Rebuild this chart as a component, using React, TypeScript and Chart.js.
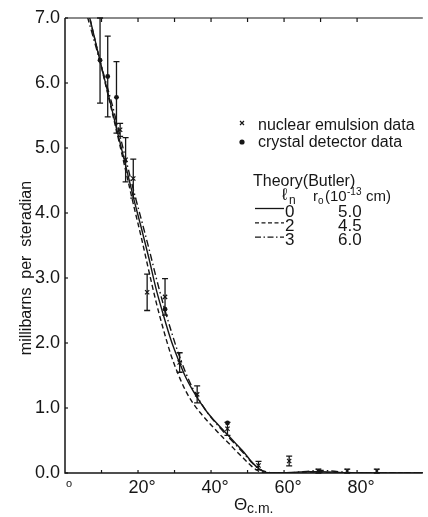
import React, { useEffect, useRef } from 'react';
import { Chart, registerables } from 'chart.js';

Chart.register(...registerables);

// ---------- data ----------
const xTickValues = [0, 20, 40, 60, 80];
const xTickLabels = ['o', '20°', '40°', '60°', '80°'];
const yTickLabels = ['0.0', '1.0', '2.0', '3.0', '4.0', '5.0', '6.0', '7.0'];

// nuclear emulsion data (×)
const emulsionAngle = [15.1, 16.6, 18.7, 22.5, 27.4, 31.4, 36.2, 44.5, 53.0, 61.4, 69.4, 77.3, 85.4];
const emulsionValue = [5.28, 4.82, 4.53, 2.78, 2.71, 1.70, 1.21, 0.68, 0.115, 0.185, 0.03, 0.03, 0.03];
const emulsionError = [0.10, 0.34, 0.30, 0.28, 0.28, 0.15, 0.13, 0.10, 0.065, 0.075, 0.03, 0.03, 0.03];

// crystal detector data (•)
const crystalAngle = [9.6, 11.7, 14.1, 27.4, 44.5];
const crystalValue = [6.35, 6.10, 5.78, 2.52, 0.77];
const crystalError = [0.66, 0.62, 0.55, 0, 0];

// Theory (Butler): l_n = 0, r0 = 5.0  (solid)
const theory0Angle = [5, 7, 9, 11, 13, 15, 17, 19, 21, 23, 25, 27, 29, 31, 33, 35, 37, 39, 41, 43, 45, 47, 49, 51, 53, 55, 58, 62, 66, 70, 75, 80, 98];
const theory0Value = [7.4, 6.95, 6.48, 6.02, 5.56, 5.1, 4.64, 4.18, 3.75, 3.3, 2.82, 2.42, 2.05, 1.75, 1.48, 1.27, 1.09, 0.93, 0.80, 0.68, 0.56, 0.44, 0.32, 0.18, 0.07, 0.01, 0, 0.01, 0.02, 0.02, 0.01, 0, 0];
// l_n = 2, r0 = 4.5  (dashed)
const theory2Angle = [5, 7, 9, 11, 13, 15, 17, 19, 21, 23, 25, 27, 29, 31, 33, 35, 37, 39, 41, 43, 45, 47, 49, 51, 53, 55, 98];
const theory2Value = [7.45, 6.95, 6.48, 6.0, 5.53, 5.05, 4.56, 4.07, 3.6, 3.1, 2.62, 2.2, 1.82, 1.52, 1.27, 1.08, 0.93, 0.80, 0.68, 0.56, 0.45, 0.33, 0.22, 0.11, 0.03, 0, 0];
// l_n = 3, r0 = 6.0  (dash-dot)
const theory3Angle = [5, 7, 9, 11, 13, 15, 17, 19, 21, 23, 25, 27, 29, 31, 33, 35, 37, 39, 41, 43, 45, 47, 49, 51, 53, 55, 58, 63, 67, 70, 73, 77, 80, 98];
const theory3Value = [7.25, 6.85, 6.45, 6.05, 5.65, 5.2, 4.75, 4.3, 3.88, 3.45, 3.0, 2.58, 2.2, 1.85, 1.55, 1.3, 1.1, 0.93, 0.79, 0.66, 0.54, 0.42, 0.3, 0.17, 0.07, 0.02, 0, 0.01, 0.03, 0.04, 0.03, 0.01, 0, 0];

const legendRows = [
  { ln: '0', r0: '5.0', dash: [] as number[] },
  { ln: '2', r0: '4.5', dash: [4, 2.5] },
  { ln: '3', r0: '6.0', dash: [6, 2.5, 1.5, 2.5] },
];

// ---------- styling ----------
const INK = '#161616';
const FONT = '"Liberation Sans", Arial, sans-serif';

const pts = (xs: number[], ys: number[]) => xs.map((x, i) => ({ x, y: ys[i] }));

const axesPlugin = {
  id: 'axesFrame',
  afterDraw(chart: any) {
    const { ctx, chartArea: a, scales } = chart;
    const x = scales.x;
    const y = scales.y;
    ctx.save();
    ctx.strokeStyle = INK;
    ctx.lineWidth = 1.5;
    ctx.beginPath();
    ctx.moveTo(a.left, a.top);
    ctx.lineTo(a.left, a.bottom);
    ctx.lineTo(a.right, a.bottom);
    ctx.stroke();
    ctx.lineWidth = 1.2;
    ctx.beginPath();
    ctx.moveTo(a.left, a.top);
    ctx.lineTo(a.right, a.top);
    ctx.stroke();
    x.ticks.forEach((t: any) => {
      if (t.value % 10 !== 0 || t.value === 0) return;
      const px = x.getPixelForValue(t.value);
      ctx.beginPath();
      ctx.moveTo(px, a.bottom);
      ctx.lineTo(px, a.bottom - 3);
      ctx.moveTo(px, a.top);
      ctx.lineTo(px, a.top + 4);
      ctx.stroke();
    });
    y.ticks.forEach((t: any) => {
      const py = y.getPixelForValue(t.value);
      ctx.beginPath();
      ctx.moveTo(a.left, py);
      ctx.lineTo(a.left + 3, py);
      ctx.stroke();
    });

    // axis titles
    ctx.fillStyle = INK;
    ctx.save();
    ctx.translate(31, 268);
    ctx.rotate(-Math.PI / 2);
    ctx.font = `16px ${FONT}`;
    ctx.textAlign = 'center';
    ctx.textBaseline = 'alphabetic';
    ctx.fillText('millibarns  per  steradian', 0, 0);
    ctx.restore();

    ctx.textAlign = 'left';
    ctx.textBaseline = 'alphabetic';
    ctx.font = `17px ${FONT}`;
    ctx.fillText('Θ', 234, 510);
    ctx.font = `14px ${FONT}`;
    ctx.fillText('c.m.', 247, 513);

    // legend
    ctx.font = `16px ${FONT}`;
    ctx.lineWidth = 1.2;
    ctx.beginPath();
    ctx.moveTo(240, 121); ctx.lineTo(244, 125);
    ctx.moveTo(244, 121); ctx.lineTo(240, 125);
    ctx.stroke();
    ctx.fillText('nuclear emulsion data', 258, 130);
    ctx.beginPath();
    ctx.arc(242, 142, 2.6, 0, Math.PI * 2);
    ctx.fill();
    ctx.fillText('crystal detector data', 258, 147);
    ctx.fillText('Theory(Butler)', 253, 186);
    ctx.font = `17px ${FONT}`;
    ctx.fillText('ℓ', 282, 200);
    ctx.font = `12px ${FONT}`;
    ctx.fillText('n', 289, 204);
    ctx.font = `15px ${FONT}`;
    ctx.fillText('r', 313, 201);
    ctx.font = `10px ${FONT}`;
    ctx.fillText('o', 318, 204);
    ctx.font = `15px ${FONT}`;
    ctx.fillText('(10', 325, 201);
    ctx.font = `10px ${FONT}`;
    ctx.fillText('-13', 347, 195);
    ctx.font = `15px ${FONT}`;
    ctx.fillText('cm)', 366, 201);

    ctx.font = `17px ${FONT}`;
    legendRows.forEach((r, i) => {
      const base = 216.5 + i * 14.3;
      ctx.save();
      ctx.setLineDash(r.dash);
      ctx.lineWidth = 1.3;
      ctx.beginPath();
      ctx.moveTo(255, base - 8);
      ctx.lineTo(284, base - 8);
      ctx.stroke();
      ctx.restore();
      ctx.fillText(r.ln, 285, base);
      ctx.fillText(r.r0, 338, base);
    });
    ctx.restore();
  },
};

const errorBarPlugin = {
  id: 'errorBars',
  afterDatasetsDraw(chart: any) {
    const { ctx, scales } = chart;
    const x = scales.x;
    const y = scales.y;
    ctx.save();
    ctx.strokeStyle = INK;
    ctx.lineWidth = 1.3;
    const draw = (angles: number[], values: number[], errs: number[]) => {
      angles.forEach((ang, i) => {
        const e = errs[i];
        if (!e) return;
        const px = x.getPixelForValue(ang);
        const top = y.getPixelForValue(Math.min(7, values[i] + e));
        const bot = y.getPixelForValue(Math.max(0, values[i] - e));
        ctx.beginPath();
        ctx.moveTo(px, top);
        ctx.lineTo(px, bot);
        ctx.moveTo(px - 3, top);
        ctx.lineTo(px + 3, top);
        ctx.moveTo(px - 3, bot);
        ctx.lineTo(px + 3, bot);
        ctx.stroke();
      });
    };
    draw(emulsionAngle, emulsionValue, emulsionError);
    draw(crystalAngle, crystalValue, crystalError);
    ctx.restore();
  },
};

export default function App() {
  const ref = useRef<HTMLCanvasElement>(null);

  useEffect(() => {
    if (!ref.current) return;
    const lineDs = (xs: number[], ys: number[], dash: number[]) => ({
      type: 'line' as const,
      data: pts(xs, ys),
      borderColor: INK,
      borderWidth: 1.4,
      borderDash: dash,
      pointRadius: 0,
      fill: false,
      cubicInterpolationMode: 'monotone' as const,
      showLine: true,
    });
    const chart = new Chart(ref.current, {
      type: 'scatter',
      data: {
        datasets: [
          lineDs(theory0Angle, theory0Value, []),
          lineDs(theory2Angle, theory2Value, [5, 3]),
          lineDs(theory3Angle, theory3Value, [7, 3, 1.5, 3]),
          {
            type: 'scatter',
            data: pts(emulsionAngle, emulsionValue),
            pointStyle: 'crossRot',
            pointRadius: 3,
            borderColor: INK,
            borderWidth: 1.2,
            backgroundColor: INK,
          },
          {
            type: 'scatter',
            data: pts(crystalAngle, crystalValue),
            pointStyle: 'circle',
            pointRadius: 2.4,
            borderColor: INK,
            borderWidth: 0,
            backgroundColor: INK,
          },
        ] as any,
      },
      options: {
        animation: false,
        responsive: false,
        devicePixelRatio: 1,
        layout: { padding: { top: 18, right: 0, left: 0, bottom: 0 } },
        plugins: { legend: { display: false }, tooltip: { enabled: false } },
        scales: {
          x: {
            type: 'linear',
            min: 0,
            max: 98,
            grid: { display: false, drawTicks: false },
            border: { display: false },
            afterFit: (s: any) => { s.height = 44; },
            ticks: {
              stepSize: 10,
              autoSkip: false,
              maxRotation: 0,
              padding: 4,
              labelOffset: 4,
              color: INK,
              font: (c: any) => (c.tick && c.tick.value === 0 ? { family: FONT, size: 11 } : { family: FONT, size: 18 }),
              callback: (v: any) => {
                const i = xTickValues.indexOf(Number(v));
                return i >= 0 ? xTickLabels[i] : '';
              },
            },
          },
          y: {
            type: 'linear',
            min: 0,
            max: 7,
            grid: { display: false, drawTicks: false },
            border: { display: false },
            afterFit: (s: any) => { s.width = 65; },
            ticks: {
              stepSize: 1,
              padding: 5,
              color: INK,
              font: { family: FONT, size: 18 },
              callback: (v: any) => yTickLabels[Math.round(Number(v))] ?? '',
            },
          },
        },
      } as any,
      plugins: [errorBarPlugin, axesPlugin],
    });
    return () => chart.destroy();
  }, []);

  return (
    <div style={{ position: 'absolute', left: 0, top: 0, width: 428, height: 517, background: '#fff' }}>
      <canvas ref={ref} width={428} height={517} style={{ display: 'block' }} />
    </div>
  );
}
